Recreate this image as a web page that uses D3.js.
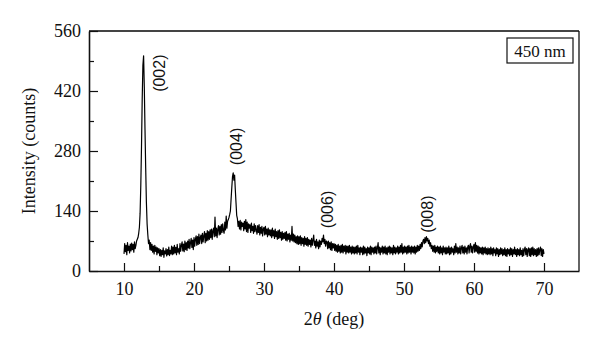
<!DOCTYPE html>
<html>
<head>
<meta charset="utf-8">
<script src="https://cdn.jsdelivr.net/npm/d3@7"></script>
<style>
  html, body { margin: 0; padding: 0; background: #fff; }
  svg text { font-family: "Liberation Serif", "DejaVu Serif", serif; fill: #111; }
</style>
</head>
<body>
<svg id="chart" width="600" height="352"></svg>
<script>
// data (counts, one row per degree, 0.1 deg steps)
const angleStart = 10;
const angleStep = 0.1;
const counts = [
  40, 64, 45, 60, 38, 66, 48, 58, 42, 63,
  47, 65, 50, 62, 44, 68, 52, 60, 70, 74,
  78, 88, 102, 135, 200, 290, 400, 480, 502, 430,
  330, 240, 160, 110, 85, 64, 72, 50, 66, 48,
  62, 44, 58, 40, 60, 46, 56, 38, 54, 42,
  52, 36, 50, 34, 48, 38, 54, 32, 47, 40,
  52, 35, 50, 38, 56, 36, 48, 40, 58, 38,
  56, 40, 60, 42, 55, 38, 62, 44, 52, 40,
  64, 46, 60, 68, 47, 63, 45, 70, 50, 66,
  48, 70, 54, 74, 52, 66, 76, 55, 72, 50,
  78, 58, 74, 82, 60, 80, 62, 86, 64, 78,
  84, 64, 88, 68, 82, 92, 66, 88, 70, 94,
  72, 92, 74, 96, 78, 98, 74, 94, 100, 80,
  126, 82, 100, 78, 98, 106, 84, 104, 86, 108,
  90, 110, 94, 88, 114, 96, 128, 100, 116, 120,
  125, 132, 140, 168, 195, 220, 229, 212, 224, 190,
  160, 130, 122, 104, 116, 98, 118, 96, 114, 104,
  112, 94, 116, 98, 120, 92, 114, 90, 110, 100,
  108, 90, 112, 94, 104, 88, 110, 92, 106, 96,
  86, 106, 90, 108, 84, 102, 88, 104, 82, 98,
  102, 84, 104, 86, 98, 80, 100, 84, 96, 82,
  96, 78, 100, 82, 94, 76, 98, 80, 92, 74,
  94, 76, 96, 78, 90, 72, 92, 74, 88, 76,
  90, 72, 92, 70, 86, 74, 88, 68, 84, 72,
  104, 70, 86, 68, 84, 66, 80, 64, 82, 62,
  80, 64, 82, 60, 78, 64, 76, 58, 80, 62,
  76, 60, 78, 58, 74, 62, 72, 56, 76, 60,
  72, 84, 60, 70, 54, 74, 58, 68, 52, 72,
  56, 70, 62, 76, 68, 84, 64, 74, 58, 70,
  68, 52, 70, 54, 66, 50, 68, 48, 64, 54,
  64, 48, 62, 46, 60, 44, 62, 46, 58, 42,
  60, 44, 62, 42, 58, 46, 60, 40, 58, 44,
  58, 42, 60, 44, 56, 40, 58, 42, 56, 40,
  56, 42, 58, 40, 60, 44, 54, 38, 56, 44,
  54, 38, 58, 40, 56, 42, 52, 36, 56, 42,
  54, 40, 58, 38, 56, 44, 54, 40, 56, 42,
  58, 40, 54, 66, 42, 56, 38, 54, 44, 58,
  40, 56, 42, 58, 40, 54, 38, 56, 44, 58,
  40, 56, 42, 54, 38, 60, 42, 56, 40, 54,
  44, 58, 40, 56, 42, 60, 44, 64, 40, 56,
  42, 58, 44, 56, 40, 58, 42, 60, 44, 56,
  40, 58, 44, 56, 42, 58, 40, 56, 44, 60,
  46, 58, 48, 62, 52, 66, 56, 70, 74, 64,
  78, 66, 80, 70, 76, 64, 72, 58, 66, 52,
  60, 46, 58, 44, 60, 42, 56, 46, 58, 42,
  56, 40, 58, 42, 54, 38, 58, 44, 54, 40,
  56, 40, 54, 42, 58, 38, 54, 40, 56, 44,
  52, 38, 58, 42, 64, 44, 56, 40, 54, 42,
  58, 40, 54, 60, 42, 56, 40, 58, 44, 54,
  40, 56, 60, 42, 58, 64, 44, 58, 42, 56,
  62, 44, 66, 46, 60, 42, 58, 40, 56, 42,
  54, 40, 56, 38, 54, 42, 56, 40, 52, 38,
  54, 40, 52, 38, 56, 40, 52, 36, 54, 42,
  50, 36, 54, 40, 52, 34, 50, 38, 54, 40,
  52, 36, 50, 38, 54, 36, 50, 34, 52, 40,
  50, 36, 54, 38, 52, 34, 50, 40, 56, 38,
  50, 34, 52, 38, 50, 36, 54, 38, 48, 34,
  52, 36, 50, 56, 38, 52, 34, 50, 54, 36,
  52, 34, 54, 38, 56, 36, 52, 38, 50, 34,
  52, 36, 54, 38, 50, 56, 36, 52, 34, 50,
  40
];

const xTicks = [10, 20, 30, 40, 50, 60, 70];
const xMinorTicks = [15, 25, 35, 45, 55, 65];
const yTicks = [0, 140, 280, 420, 560];
const yMinorTicks = [70, 210, 350, 490];

const peakLabels = ["(002)", "(004)", "(006)", "(008)"];
const peakLabelAngles = [15.1, 26.1, 39.0, 53.3];
const peakLabelCounts = [418, 247, 100, 89];

const sampleLabel = "450 nm";

// layout
const svg = d3.select("#chart");
const margin = { top: 31, right: 21, bottom: 81, left: 89 };
const width = 600 - margin.left - margin.right;
const height = 352 - margin.top - margin.bottom;

const x = d3.scaleLinear().domain([5, 75]).range([0, width]);
const y = d3.scaleLinear().domain([0, 560]).range([height, 0]);

const g = svg.append("g").attr("transform", `translate(${margin.left},${margin.top})`);

const points = counts.map((c, i) => [angleStart + i * angleStep, c]);

const line = d3.line()
  .x(d => x(d[0]))
  .y(d => y(d[1]));

g.append("path")
  .datum(points)
  .attr("fill", "none")
  .attr("stroke", "#000")
  .attr("stroke-width", 1.2)
  .attr("stroke-linejoin", "round")
  .attr("d", line);

// frame top / right
g.append("line")
  .attr("x1", 0).attr("x2", width).attr("y1", 0).attr("y2", 0)
  .attr("stroke", "#444").attr("stroke-width", 2);
g.append("line")
  .attr("x1", width).attr("x2", width).attr("y1", 0).attr("y2", height)
  .attr("stroke", "#111").attr("stroke-width", 1.3);

// axes, ticks point inward
g.append("g")
  .attr("transform", `translate(0,${height})`)
  .call(d3.axisBottom(x).tickValues(xTicks).tickSizeInner(-8).tickSizeOuter(0).tickPadding(11));
g.append("g")
  .attr("transform", `translate(0,${height})`)
  .call(d3.axisBottom(x).tickValues(xMinorTicks).tickSizeInner(-5).tickSizeOuter(0).tickFormat(""))
  .select(".domain").remove();

g.append("g")
  .call(d3.axisLeft(y).tickValues(yTicks).tickSizeInner(-9).tickSizeOuter(0).tickPadding(8));
g.append("g")
  .call(d3.axisLeft(y).tickValues(yMinorTicks).tickSizeInner(-5).tickSizeOuter(0).tickFormat(""))
  .select(".domain").remove();

g.selectAll(".domain").attr("stroke", "#111").attr("stroke-width", 1.6);
g.selectAll(".tick line").attr("stroke", "#111").attr("stroke-width", 1.2);
g.selectAll(".tick text")
  .style("font-family", '"Liberation Serif", serif')
  .style("font-size", "18px")
  .attr("fill", "#111");

// axis titles
svg.append("text")
  .attr("transform", `translate(29,${margin.top + height / 2}) rotate(-90)`)
  .attr("text-anchor", "middle")
  .attr("dy", "0.35em")
  .style("font-size", "18px")
  .text("Intensity (counts)");

const xTitle = svg.append("text")
  .attr("x", margin.left + width / 2)
  .attr("y", 325)
  .attr("text-anchor", "middle")
  .style("font-size", "18px");
xTitle.append("tspan").text("2");
xTitle.append("tspan").style("font-style", "italic").text("θ");
xTitle.append("tspan").text(" (deg)");

// peak labels
g.selectAll(".peak")
  .data(peakLabels)
  .join("text")
  .attr("class", "peak")
  .attr("transform", (d, i) => `translate(${x(peakLabelAngles[i])},${y(peakLabelCounts[i])}) rotate(-90)`)
  .attr("dy", "0.35em")
  .attr("text-anchor", "start")
  .style("font-family", '"Liberation Sans", Arial, sans-serif')
  .style("font-size", "16px")
  .text(d => d);

// sample label box
const lg = svg.append("g").attr("transform", "translate(507,38)");
lg.append("rect")
  .attr("width", 66).attr("height", 25)
  .attr("fill", "#fff").attr("stroke", "#111").attr("stroke-width", 1.2);
lg.append("text")
  .attr("x", 33).attr("y", 18.5)
  .attr("text-anchor", "middle")
  .style("font-size", "17px")
  .text(sampleLabel);
</script>
</body>
</html>
